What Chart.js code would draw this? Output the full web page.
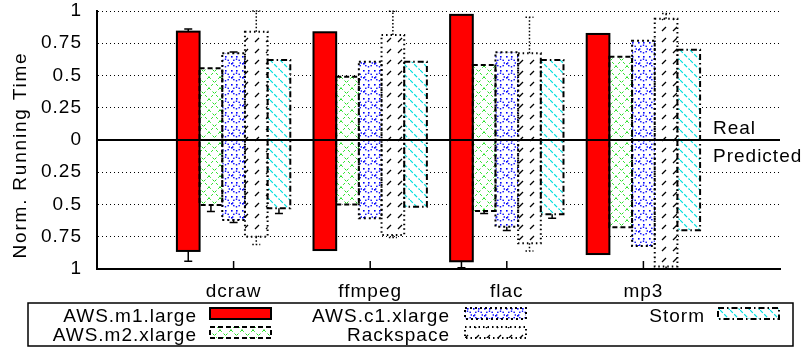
<!DOCTYPE html>
<html>
<head>
<meta charset="utf-8">
<script src="https://cdn.jsdelivr.net/npm/chart.js@4"></script>
<style>
  html, body { margin: 0; padding: 0; background: #fff; }
</style>
</head>
<body>
<canvas id="runtimeChart" width="804" height="348"></canvas>
<script>
// programs on the x axis
const categories = ['dcraw', 'ffmpeg', 'flac', 'mp3'];
const seriesNames = ['AWS.m1.large', 'AWS.m2.xlarge', 'AWS.c1.xlarge', 'Rackspace', 'Storm'];

// normalized running time, measured (drawn above 0), one row per series
const realTime = [
  [0.84, 0.835, 0.97, 0.822],
  [0.556, 0.49, 0.581, 0.646],
  [0.672, 0.607, 0.68, 0.77],
  [0.84, 0.814, 0.672, 0.94],
  [0.62, 0.607, 0.62, 0.70]
];
// normalized running time, predicted (drawn below 0)
const predictedTime = [
  [0.86, 0.853, 0.94, 0.884],
  [0.504, 0.50, 0.55, 0.677],
  [0.62, 0.607, 0.672, 0.822],
  [0.75, 0.736, 0.80, 0.98],
  [0.53, 0.517, 0.576, 0.70]
];
// error bar length beyond the bar end
const realErr = [
  [0.02, 0, 0, 0],
  [0, 0, 0, 0],
  [0.01, 0, 0, 0],
  [0.16, 0.185, 0.28, 0.04],
  [0, 0, 0, 0]
];
const predictedErr = [
  [0.08, 0, 0.05, 0],
  [0.05, 0, 0.02, 0],
  [0.02, 0, 0.03, 0],
  [0.06, 0.02, 0.06, 0.02],
  [0.04, 0, 0.03, 0]
];

const FONT = '"Liberation Sans", Arial, Helvetica, sans-serif';
const FONT_SIZE = 19;

// fill patterns, gnuplot style
function makePattern(w, h, draw) {
  const c = document.createElement('canvas');
  c.width = w; c.height = h;
  const g = c.getContext('2d');
  g.fillStyle = '#fff';
  g.fillRect(0, 0, w, h);
  draw(g);
  return g.createPattern(c, 'repeat');
}

const greenHatch = makePattern(11, 11, g => {
  g.strokeStyle = '#22e022';
  g.lineWidth = 1;
  g.setLineDash([2.5, 2.5]);
  g.beginPath();
  g.moveTo(0, 0); g.lineTo(11, 11);
  g.moveTo(11, 0); g.lineTo(0, 11);
  g.stroke();
});

const blueDots = makePattern(11, 14, g => {
  g.fillStyle = '#0000ff';
  for (let a = 0; a < 8; a++) {
    const t = a * Math.PI / 4;
    g.fillRect(5.5 + 3.8 * Math.cos(t) - 0.7, 7 + 3.8 * Math.sin(t) - 0.7, 1.4, 1.4);
  }
  g.fillRect(0, 0, 1.6, 1.6);
  g.fillRect(5, 0, 1.6, 1.6);
  g.fillRect(0, 7, 1.6, 1.6);
});

const blackSlash = makePattern(11, 11, g => {
  g.strokeStyle = '#000';
  g.lineWidth = 1.2;
  g.beginPath();
  g.moveTo(2, 9); g.lineTo(6, 5);
  g.stroke();
});

const cyanBack = makePattern(10, 10, g => {
  g.strokeStyle = '#00dede';
  g.lineWidth = 1.2;
  g.setLineDash([4, 2]);
  g.beginPath();
  g.moveTo(0, 0); g.lineTo(10, 10);
  g.stroke();
});

const fills = ['#ff0000', greenHatch, blueDots, blackSlash, cyanBack];
const dashes = [[], [5, 3], [2, 3], [1.5, 3], [6, 3, 1.5, 3]];

function strokeBox(ctx, x0, y0, x1, y1, i) {
  ctx.save();
  ctx.strokeStyle = '#000';
  ctx.lineWidth = 2;
  ctx.setLineDash(dashes[i]);
  ctx.strokeRect(x0, y0, x1 - x0, y1 - y0);
  ctx.restore();
}

const decorPlugin = {
  id: 'decor',
  beforeDraw(chart) {
    chart.ctx.letterSpacing = '1px';
  },
  afterDatasetsDraw(chart) {
    const ctx = chart.ctx;
    const yScale = chart.scales.y;
    const xScale = chart.scales.x;
    const area = chart.chartArea;

    // bar outlines and error bars
    chart.data.datasets.forEach((ds, i) => {
      const meta = chart.getDatasetMeta(i);
      meta.data.forEach((el, k) => {
        if (ds.data[k] == null) return;
        const j = k - 1;
        const top = Math.min(el.y, el.base);
        const bot = Math.max(el.y, el.base);
        const x0 = el.x - el.width / 2;
        const x1 = el.x + el.width / 2;
        strokeBox(ctx, x0, top, x1, bot, i);

        ctx.save();
        ctx.strokeStyle = '#000';
        ctx.lineWidth = 1.5;
        ctx.setLineDash(i === 3 ? [1.5, 2] : []);
        const ends = [];
        if (realErr[i][j] > 0) ends.push([top, yScale.getPixelForValue(realTime[i][j] + realErr[i][j])]);
        if (predictedErr[i][j] > 0) ends.push([bot, yScale.getPixelForValue(-(predictedTime[i][j] + predictedErr[i][j]))]);
        ends.forEach(([from, to]) => {
          ctx.beginPath();
          ctx.moveTo(el.x, from); ctx.lineTo(el.x, to);
          ctx.moveTo(el.x - 4, to); ctx.lineTo(el.x + 4, to);
          ctx.stroke();
        });
        ctx.restore();
      });
    });

    // solid zero line between real and predicted
    const y0 = yScale.getPixelForValue(0);
    ctx.save();
    ctx.strokeStyle = '#000';
    ctx.lineWidth = 2;
    ctx.beginPath();
    ctx.moveTo(area.left, y0);
    ctx.lineTo(area.right, y0);
    ctx.stroke();

    // inward tick marks on the x axis
    ctx.lineWidth = 1.5;
    categories.forEach((c, j) => {
      const x = xScale.getPixelForValue(j + 1);
      ctx.beginPath();
      ctx.moveTo(x, area.bottom);
      ctx.lineTo(x, area.bottom - 8);
      ctx.stroke();
    });
    ctx.restore();
  },
  afterDraw(chart) {
    const ctx = chart.ctx;
    const yScale = chart.scales.y;
    const y0 = yScale.getPixelForValue(0);
    ctx.save();
    ctx.fillStyle = '#000';
    ctx.font = FONT_SIZE + 'px ' + FONT;
    ctx.letterSpacing = '1px';
    ctx.textAlign = 'left';
    ctx.textBaseline = 'alphabetic';
    ctx.fillText('Real', 713, y0 - 6);
    ctx.fillText('Predicted', 713, y0 + 22);

    // y axis title
    ctx.save();
    ctx.translate(21, 155);
    ctx.rotate(-Math.PI / 2);
    ctx.letterSpacing = '1.8px';
    ctx.textAlign = 'center';
    ctx.textBaseline = 'middle';
    ctx.fillText('Norm. Running Time', 0, 0);
    ctx.restore();

    // legend, gnuplot style: text then sample, filled by columns
    ctx.lineWidth = 1.5;
    ctx.strokeStyle = '#000';
    ctx.strokeRect(28, 303, 765, 43);
    const textRight = [197, 450, 705];
    const sampleLeft = [210, 465, 718];
    const rowBase = [321.5, 340.5];
    ctx.textAlign = 'right';
    seriesNames.forEach((name, i) => {
      const col = Math.floor(i / 2);
      const row = i % 2;
      ctx.fillStyle = '#000';
      ctx.fillText(name, textRight[col], rowBase[row]);
      const sy = rowBase[row] - 13.5;
      ctx.fillStyle = fills[i];
      ctx.fillRect(sampleLeft[col], sy, 61, 11);
      strokeBox(ctx, sampleLeft[col], sy, sampleLeft[col] + 61, sy + 11, i);
    });
    ctx.restore();
  }
};

Chart.defaults.font.family = FONT;
Chart.defaults.font.size = FONT_SIZE;
Chart.defaults.color = '#000';

new Chart(document.getElementById('runtimeChart'), {
  type: 'bar',
  data: {
    labels: ['', ...categories, ''],
    datasets: seriesNames.map((name, i) => ({
      label: name,
      data: [null, ...categories.map((c, j) => [-predictedTime[i][j], realTime[i][j]]), null],
      backgroundColor: fills[i],
      borderWidth: 0,
      borderSkipped: false
    }))
  },
  options: {
    responsive: false,
    animation: false,
    categoryPercentage: 0.83,
    barPercentage: 1,
    layout: { padding: { left: 0, right: 24, top: 11, bottom: 45 } },
    plugins: {
      legend: { display: false },
      tooltip: { enabled: false }
    },
    scales: {
      x: {
        offset: false,
        grid: { drawOnChartArea: false, drawTicks: false },
        border: { color: '#000', width: 2 },
        ticks: { padding: 11, autoSkip: false, maxRotation: 0 },
        afterFit: s => { s.height = 34; }
      },
      y: {
        min: -1,
        max: 1,
        ticks: {
          stepSize: 0.25,
          padding: 15,
          callback: v => String(Math.abs(v))
        },
        grid: {
          drawTicks: false,
          lineWidth: 1,
          color: c => (c.tick && c.tick.value === 0) ? 'rgba(0,0,0,0)' : '#000'
        },
        border: { color: '#000', width: 2, dash: [1, 3] },
        afterFit: s => { s.width = 97; s.paddingTop = 0; s.paddingBottom = 0; }
      }
    }
  },
  plugins: [decorPlugin]
});
</script>
</body>
</html>
